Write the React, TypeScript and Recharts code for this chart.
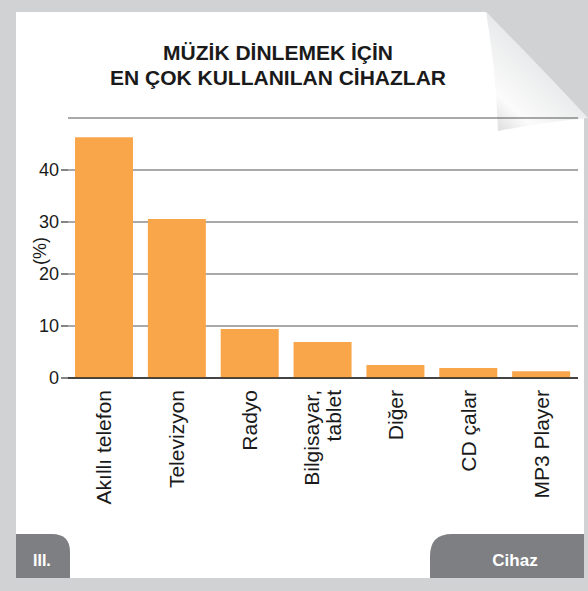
import { BarChart, Bar, XAxis, YAxis, CartesianGrid, Label } from 'recharts';

// Data
const devices = ['Akıllı telefon', 'Televizyon', 'Radyo', 'Bilgisayar,\ntablet', 'Diğer', 'CD çalar', 'MP3 Player'];
const shares = [46.3, 30.6, 9.4, 6.9, 2.5, 1.9, 1.3];
const yTicks = [0, 10, 20, 30, 40];
const titleLines = ['MÜZİK DİNLEMEK İÇİN', 'EN ÇOK KULLANILAN CİHAZLAR'];
const yLabel = '(%)';
const xLabel = 'Cihaz';
const panelTag = 'III.';

const data = devices.map((name, i) => ({ name, value: shares[i] }));

const FONT = '"Liberation Sans", Arial, Helvetica, sans-serif';
const ORANGE = '#F9A64B';
const TAB = '#7E7F83';
const FRAME = '#D1D2D4';

function DeviceTick(props: any) {
  const { x, y, payload } = props;
  const lines = String(payload.value).split('\n');
  return (
    <g transform={`translate(${x},${y})`}>
      <text transform="rotate(-90)" textAnchor="end" fontSize={21} fill="#1a1a1a" fontFamily={FONT}>
        {lines.map((line, i) => (
          <tspan key={i} x={-12} y={(i - (lines.length - 1) / 2) * 22 + 7}>
            {line}
          </tspan>
        ))}
      </text>
    </g>
  );
}

function Backdrop() {
  return (
    <svg width={588} height={591} style={{ position: 'absolute', left: 0, top: 0 }}>
      <defs>
        <linearGradient id="curl" x1="588" y1="20" x2="488" y2="125" gradientUnits="userSpaceOnUse">
          <stop offset="0" stopColor="#c4c5c7" />
          <stop offset="0.45" stopColor="#e9eaeb" />
          <stop offset="0.8" stopColor="#fbfbfb" />
          <stop offset="1" stopColor="#dcdcdd" />
        </linearGradient>
      </defs>
      <rect x={0} y={0} width={588} height={591} fill={FRAME} />
      <path d="M16 12 L486 12 L584 116 L584 578 L16 578 Z" fill="#ffffff" />
      {/* folded corner */}
      <path
        d="M486 12 Q496 70 498 131 Q545 122 588 118 Q540 66 486 12 Z"
        fill="url(#curl)"
      />
      {/* title */}
      {titleLines.map((t, i) => (
        <text
          key={i}
          x={278}
          y={60 + i * 25}
          textAnchor="middle"
          fontSize={21}
          fontWeight="bold"
          fill="#1a1a1a"
          fontFamily={FONT}
        >
          {t}
        </text>
      ))}
      {/* bottom tabs */}
      <path d="M16 534 L52 534 Q70 534 70 552 L70 578 L16 578 Z" fill={TAB} />
      <text x={33} y={566} fontSize={16} fontWeight="bold" fill="#ffffff" fontFamily={FONT}>
        {panelTag}
      </text>
      <path d="M452 534 L584 534 L584 578 L430 578 L430 556 Q430 534 452 534 Z" fill={TAB} />
      <text x={515} y={566} textAnchor="middle" fontSize={17} fontWeight="bold" fill="#ffffff" fontFamily={FONT}>
        {xLabel}
      </text>
    </svg>
  );
}

export default function App() {
  return (
    <div style={{ position: 'absolute', left: 0, top: 0, width: 588, height: 591, fontFamily: FONT }}>
      <Backdrop />
      <div style={{ position: 'absolute', left: 0, top: 0 }}>
        <BarChart
          width={588}
          height={591}
          data={data}
          margin={{ top: 118, right: 10, bottom: 63, left: 0 }}
          barCategoryGap={15}
        >
          <CartesianGrid vertical={false} stroke="#555" strokeWidth={1.2} />
          <XAxis
            dataKey="name"
            interval={0}
            height={150}
            tickLine={false}
            tickSize={0}
            tickMargin={0}
            axisLine={{ stroke: '#222', strokeWidth: 1.6 }}
            tick={<DeviceTick />}
          />
          <YAxis
            width={68}
            domain={[0, 50]}
            ticks={yTicks}
            axisLine={false}
            tickLine={{ stroke: '#333', strokeWidth: 1.2 }}
            tickSize={7}
            tickMargin={2}
            tick={{ fontSize: 18, fill: '#1a1a1a', fontFamily: FONT }}
          >
            <Label
              value={yLabel}
              angle={-90}
              position="insideLeft"
              offset={40}
              dy={3}
              style={{ fontSize: 18, fill: '#1a1a1a', fontFamily: FONT, textAnchor: 'middle' }}
            />
          </YAxis>
          <Bar dataKey="value" fill={ORANGE} barSize={58} isAnimationActive={false} />
        </BarChart>
      </div>
    </div>
  );
}
